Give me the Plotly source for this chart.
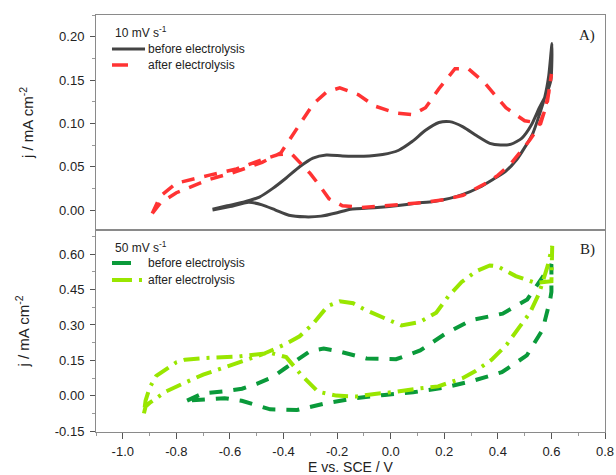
import plotly.graph_objects as go

# ---- 10 mV/s cyclic voltammograms (E vs. SCE / V, j / mA cm^-2) ----
E_10_before = [-0.665, -0.60, -0.53, -0.48, -0.43, -0.38, -0.32, -0.26, -0.20, -0.15, -0.05, 0.02,
               0.10, 0.16, 0.22, 0.27, 0.33, 0.38, 0.43, 0.47, 0.50, 0.53, 0.555, 0.575, 0.59, 0.602,
               0.598, 0.58, 0.555, 0.525, 0.49, 0.45, 0.41, 0.37, 0.32, 0.27, 0.22, 0.18, 0.13, 0.08,
               0.03, -0.03, -0.10, -0.18, -0.24, -0.29, -0.34, -0.39, -0.44, -0.49, -0.55, -0.61, -0.665]
j_10_before = [0.000, 0.004, 0.009, 0.006, 0.000, -0.006, -0.0078, -0.007, -0.003, 0.001, 0.003, 0.005,
               0.008, 0.010, 0.0135, 0.018, 0.026, 0.035, 0.045, 0.058, 0.072, 0.088, 0.110, 0.130, 0.155, 0.192,
               0.150, 0.133, 0.118, 0.098, 0.083, 0.076, 0.075, 0.077, 0.086, 0.096, 0.102, 0.101, 0.092, 0.079,
               0.069, 0.064, 0.062, 0.0625, 0.0635, 0.060, 0.050, 0.037, 0.025, 0.015, 0.009, 0.005, 0.001]

E_10_after = [-0.89, -0.86, -0.80, -0.74, -0.68, -0.58, -0.48, -0.41, -0.37, -0.33, -0.29, -0.24, -0.19,
              -0.12, -0.06, 0.02, 0.08, 0.13, 0.18, 0.24, 0.29, 0.35, 0.43, 0.50, 0.56, 0.585, 0.60,
              0.59, 0.573, 0.55, 0.52, 0.45, 0.40, 0.35, 0.27, 0.20, 0.12, 0.0, -0.11, -0.18, -0.23,
              -0.27, -0.30, -0.37, -0.42, -0.48, -0.58, -0.68, -0.74, -0.80, -0.86, -0.89]
j_10_after = [-0.004, 0.008, 0.020, 0.028, 0.035, 0.044, 0.055, 0.066, 0.085, 0.103, 0.122, 0.136, 0.141,
              0.133, 0.120, 0.112, 0.110, 0.118, 0.140, 0.163, 0.163, 0.147, 0.118, 0.103, 0.100, 0.125, 0.157,
              0.135, 0.113, 0.095, 0.081, 0.054, 0.040, 0.030, 0.017, 0.012, 0.0085, 0.006, 0.003, 0.005, 0.013,
              0.030, 0.042, 0.065, 0.064, 0.058, 0.047, 0.040, 0.036, 0.031, 0.016, -0.004]

# ---- 50 mV/s cyclic voltammograms ----
E_50_before = [-0.76, -0.73, -0.70, -0.615, -0.555, -0.50, -0.44, -0.39, -0.30, -0.25, -0.20, -0.09, 0.02,
               0.11, 0.20, 0.30, 0.418, 0.51, 0.583, 0.60,
               0.60, 0.595, 0.567, 0.508, 0.415, 0.302, 0.196, 0.084, -0.022, -0.135, -0.24, -0.35,
               -0.45, -0.556, -0.62, -0.672, -0.72, -0.76]
j_50_before = [-0.020, -0.005, 0.011, 0.020, 0.030, 0.051, 0.080, 0.120, 0.190, 0.200, 0.190, 0.158, 0.155,
               0.192, 0.260, 0.320, 0.348, 0.408, 0.525, 0.557,
               0.440, 0.405, 0.280, 0.171, 0.100, 0.062, 0.034, 0.015, 0.004, -0.010, -0.031, -0.060,
               -0.057, -0.021, -0.010, -0.013, -0.016, -0.020]

E_50_after = [-0.921, -0.915, -0.90, -0.87, -0.84, -0.77, -0.70, -0.64, -0.57, -0.48, -0.40, -0.34, -0.29,
              -0.235, -0.19, -0.14, -0.097, -0.03, 0.04, 0.11, 0.17, 0.215, 0.265, 0.32, 0.37, 0.40, 0.467,
              0.54, 0.60,
              0.603, 0.586, 0.554, 0.52, 0.483, 0.433, 0.377, 0.315, 0.268, 0.22, 0.177, 0.097, 0.026,
              -0.06, -0.128, -0.203, -0.272, -0.334, -0.39, -0.45, -0.51, -0.573, -0.697, -0.768, -0.80,
              -0.846, -0.875, -0.90, -0.915, -0.921]
j_50_after = [-0.074, -0.045, -0.030, -0.005, 0.018, 0.055, 0.090, 0.113, 0.139, 0.175, 0.215, 0.252, 0.305,
              0.380, 0.400, 0.392, 0.365, 0.330, 0.298, 0.313, 0.352, 0.421, 0.482, 0.528, 0.552, 0.548, 0.507,
              0.478, 0.485,
              0.635, 0.550, 0.434, 0.352, 0.295, 0.217, 0.153, 0.104, 0.075, 0.055, 0.040, 0.030, 0.018,
              0.008, -0.003, 0.001, 0.018, 0.089, 0.164, 0.182, 0.174, 0.166, 0.160, 0.153, 0.142,
              0.110, 0.085, 0.034, -0.020, -0.074]

# ---- tick labels ----
x_ticks = [-1.0, -0.8, -0.6, -0.4, -0.2, 0.0, 0.2, 0.4, 0.6, 0.8]
x_ticktext = ["-1.0", "-0.8", "-0.6", "-0.4", "-0.2", "0.0", "0.2", "0.4", "0.6", "0.8"]
y1_ticks = [0.00, 0.05, 0.10, 0.15, 0.20]
y1_ticktext = ["0.00", "0.05", "0.10", "0.15", "0.20"]
y2_ticks = [-0.15, 0.00, 0.15, 0.30, 0.45, 0.60]
y2_ticktext = ["-0.15", "0.00", "0.15", "0.30", "0.45", "0.60"]

FONT = "Liberation Sans, Arial, sans-serif"
SERIF = "Liberation Serif, Times New Roman, serif"
FRAME = "#8a8a8a"
TICKC = "#555555"
TXT = "#222222"

# series line styles
STYLE_10_BEFORE = dict(color="#444444", width=3)
STYLE_10_AFTER = dict(color="#ff3333", width=3.5, dash="13px,10px")
STYLE_50_BEFORE = dict(color="#0a9a3a", width=4, dash="13px,11px")
STYLE_50_AFTER = dict(color="#99e600", width=4, dash="16px,7px,3px,7px")

fig = go.Figure()

fig.add_trace(go.Scatter(x=E_10_before, y=j_10_before, mode="lines", name="before electrolysis",
                         line=dict(STYLE_10_BEFORE, shape="spline", smoothing=0.6),
                         xaxis="x", yaxis="y", showlegend=False))
fig.add_trace(go.Scatter(x=E_10_after, y=j_10_after, mode="lines", name="after electrolysis",
                         line=STYLE_10_AFTER, xaxis="x", yaxis="y", showlegend=False))
fig.add_trace(go.Scatter(x=E_50_before, y=j_50_before, mode="lines", name="before electrolysis",
                         line=STYLE_50_BEFORE, xaxis="x2", yaxis="y2", showlegend=False))
fig.add_trace(go.Scatter(x=E_50_after, y=j_50_after, mode="lines", name="after electrolysis",
                         line=STYLE_50_AFTER, xaxis="x2", yaxis="y2", showlegend=False))

common_axis = dict(showline=True, linecolor=FRAME, linewidth=1, mirror=True, showgrid=False,
                   zeroline=False, automargin=False, tickcolor=TICKC,
                   tickfont=dict(family=FONT, size=13, color=TXT))

# ---- in-panel keys (scan rate title + line samples + labels) ----
KEY_X0, KEY_X1, KEY_TXT = 0.0314, 0.0963, 0.0982
keys = [
    ("10 mV s<sup>-1</sup>", 0.9592, [("before electrolysis", 0.9185, STYLE_10_BEFORE, "solid"),
                                      ("after electrolysis", 0.8801, STYLE_10_AFTER, "16px,40px")]),
    ("50 mV s<sup>-1</sup>", 0.4436, [("before electrolysis", 0.4053, STYLE_50_BEFORE, "19px,40px"),
                                      ("after electrolysis", 0.3645, STYLE_50_AFTER, "20px,7px,3px,40px")]),
]
shapes, annotations = [], []
for title, ty, items in keys:
    annotations.append(dict(text=title, xref="paper", yref="paper", x=KEY_X0 + 0.002, y=ty,
                            showarrow=False, xanchor="left", yanchor="middle",
                            font=dict(family=FONT, size=12, color=TXT)))
    for label, iy, st, kd in items:
        shapes.append(dict(type="line", xref="paper", yref="paper", x0=KEY_X0, x1=KEY_X1, y0=iy, y1=iy,
                           line=dict(color=st["color"], width=st["width"], dash=kd)))
        annotations.append(dict(text=label, xref="paper", yref="paper", x=KEY_TXT, y=iy,
                                showarrow=False, xanchor="left", yanchor="middle",
                                font=dict(family=FONT, size=12, color=TXT)))

annotations += [
    dict(text="A)", xref="paper", yref="paper", x=0.965, y=0.952, showarrow=False,
         xanchor="center", yanchor="middle", font=dict(family=SERIF, size=15, color=TXT)),
    dict(text="B)", xref="paper", yref="paper", x=0.965, y=0.4365, showarrow=False,
         xanchor="center", yanchor="middle", font=dict(family=SERIF, size=15, color=TXT)),
]

fig.update_layout(
    width=616, height=475,
    margin=dict(l=96, r=11, t=15, b=43),
    paper_bgcolor="white", plot_bgcolor="white",
    font=dict(family=FONT, color=TXT),
    showlegend=False,
    xaxis=dict(common_axis, domain=[0, 1], anchor="y", range=[-1.1, 0.8],
               showticklabels=False, ticks=""),
    yaxis=dict(common_axis, domain=[0.4844, 1], anchor="x", range=[-0.023, 0.225],
               tickmode="array", tickvals=y1_ticks, ticktext=y1_ticktext,
               ticks="outside", ticklen=5, ticklabelstandoff=3,
               minor=dict(tickmode="linear", tick0=0, dtick=0.025, ticks="outside", ticklen=3,
                          tickcolor="#999"),
               title=dict(text="j / mA cm<sup>-2</sup>", font=dict(family=FONT, size=15), standoff=21)),
    xaxis2=dict(common_axis, domain=[0, 1], anchor="y2", range=[-1.1, 0.8],
                tickmode="array", tickvals=x_ticks, ticktext=x_ticktext,
                ticks="outside", ticklen=6, ticklabelstandoff=1,
                minor=dict(tickmode="linear", tick0=0, dtick=0.1, ticks="outside", ticklen=3,
                           tickcolor="#999"),
                title=dict(text="E vs. SCE / V", font=dict(family=FONT, size=14), standoff=3)),
    yaxis2=dict(common_axis, domain=[0, 0.4844], anchor="x2", range=[-0.153, 0.702],
                tickmode="array", tickvals=y2_ticks, ticktext=y2_ticktext,
                ticks="outside", ticklen=5, ticklabelstandoff=3,
                minor=dict(tickmode="linear", tick0=0, dtick=0.075, ticks="outside", ticklen=3,
                           tickcolor="#999"),
                title=dict(text="j / mA cm<sup>-2</sup>", font=dict(family=FONT, size=15), standoff=21)),
    shapes=shapes,
    annotations=annotations,
)

fig.write_html("out.html")
